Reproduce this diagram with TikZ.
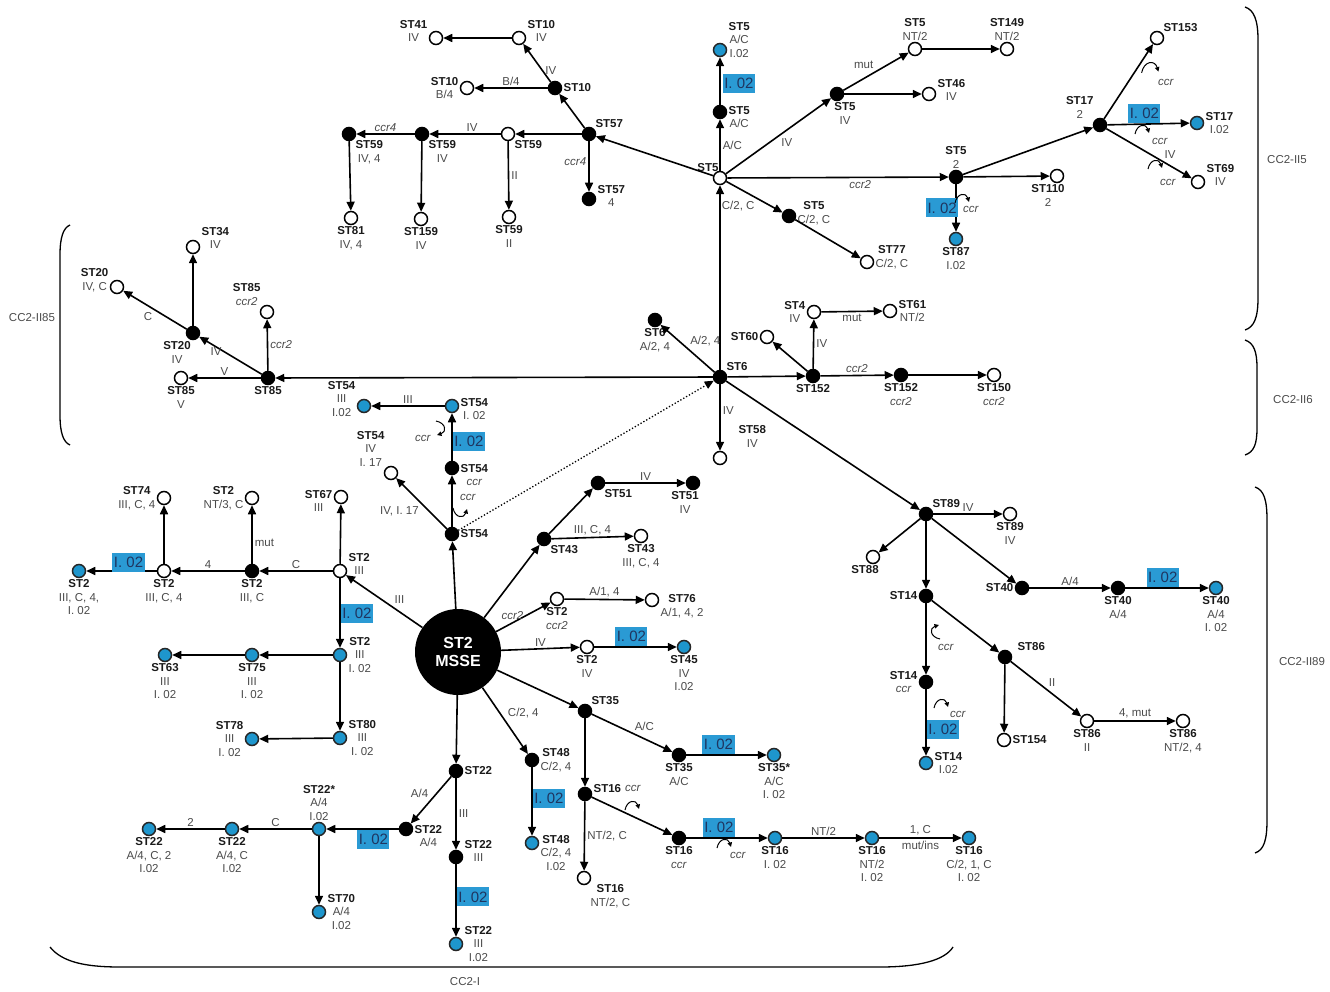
\documentclass[tikz,border=0pt]{standalone}
\usepackage{fontspec}
\setmainfont{Liberation Sans}
\usetikzlibrary{arrows.meta}

\definecolor{stblue}{HTML}{1E96CD}
\definecolor{badgeblue}{HTML}{2A9AD4}
\definecolor{badgetxt}{HTML}{1F3560}
\definecolor{anno}{HTML}{4A4A4A}
\definecolor{stcol}{HTML}{1A1A1A}

\newcommand{\st}[1]{{\bfseries\color{stcol}#1}}

\begin{document}
\begin{tikzpicture}[
    x=1pt, y=-1pt,
    font=\fontsize{11.5}{13.5}\selectfont,
    >={Triangle[length=9pt,width=8pt]},
    base/.style={circle, draw=black, line width=1.5pt, minimum size=13pt, inner sep=0pt},
    opn/.style={base, fill=white},
    fil/.style={base, fill=black},
    blu/.style={base, fill=stblue, draw=black!85},
    hub/.style={circle, fill=black, minimum size=86pt, inner sep=0pt, text=white,
      font=\fontsize{16}{18}\selectfont\bfseries, align=center},
    lab/.style={text=anno, align=center, inner sep=1.2pt},
    el/.style={text=anno, inner sep=2pt},
    badge/.style={fill=badgeblue, text=badgetxt, inner sep=1.5pt, minimum height=19pt,
      font=\fontsize{15}{15}\selectfont},
    arr/.style={->, line width=1.6pt},
    curl/.style={-{Triangle[length=4.5pt,width=4.5pt]}, line width=1pt},
    brk/.style={line width=1.3pt},
    ccrloop/.pic={\draw[curl] (-7,4) .. controls (-5,-6) and (4,-7) .. (7,3);},
  ]
  \useasboundingbox (0,0) rectangle (1330,992);

  % --- CC2-II5: ST5 and ST57 ---
  \node[opn, label={[lab, xshift=5pt]above left:\st{ST5}}] (st5) at (720,178) {};
  \node[fil, label={[lab]above right:\st{ST57}}] (st57) at (589,134) {};
  \node[fil, label={[lab]right:\st{ST10}}] (st10f) at (555,88) {};
  \node[opn, label={[lab, yshift=7pt]right:{\st{ST10}\\IV}}] (st10o) at (519,38) {};
  \node[opn, label={[lab, yshift=7pt]left:{\st{ST41}\\IV}}] (st41) at (436,38) {};
  \node[opn, label={[lab]left:{\st{ST10}\\B/4}}] (st10b) at (467,88) {};
  \node[opn, label={[lab]below right:\st{ST59}}] (st59o) at (508,134) {};
  \node[fil, label={[lab]below right:{\st{ST59}\\IV}}] (st59a) at (422,134) {};
  \node[fil, label={[lab]below right:{\st{ST59}\\IV, 4}}] (st59b) at (349,134) {};
  \node[opn, label={[lab]below:{\st{ST81}\\IV, 4}}] (st81) at (351,218) {};
  \node[opn, label={[lab]below:{\st{ST159}\\IV}}] (st159) at (421,219) {};
  \node[opn, label={[lab]below:{\st{ST59}\\II}}] (st59c) at (509,217) {};
  \node[fil, label={[lab, yshift=3pt]right:{\st{ST57}\\4}}] (st57b) at (589,199) {};
  \node[fil, label={[lab, yshift=-5pt]right:{\st{ST5}\\A/C}}] (st5a) at (720,112) {};
  \node[blu, label={[lab, yshift=10pt]right:{\st{ST5}\\A/C\\I.02}}] (st5b) at (720,50) {};
  \node[fil, label={[lab, xshift=8pt]below:{\st{ST5}\\IV}}] (st5c) at (837,94) {};
  \node[opn, label={[lab]above:{\st{ST5}\\NT/2}}] (st5d) at (915,49) {};
  \node[opn, label={[lab, yshift=4pt]right:{\st{ST46}\\IV}}] (st46) at (929,94) {};
  \node[opn, label={[lab]above:{\st{ST149}\\NT/2}}] (st149) at (1007,49) {};
  \node[fil, label={[lab]above:{\st{ST5}\\2}}] (st5e) at (956,177) {};
  \node[blu, label={[lab]below:{\st{ST87}\\I.02}}] (st87) at (956,239) {};
  \node[opn, label={[lab, xshift=-9pt]below:{\st{ST110}\\2}}] (st110) at (1057,176) {};
  \node[fil, label={[lab]above left:{\st{ST17}\\2}}] (st17) at (1100,125) {};
  \node[opn, label={[lab]above right:\st{ST153}}] (st153) at (1157,38) {};
  \node[blu, label={[lab]right:{\st{ST17}\\I.02}}] (st17b) at (1197,123) {};
  \node[opn, label={[lab, yshift=7pt]right:{\st{ST69}\\IV}}] (st69) at (1198,182) {};
  \node[fil, label={[lab, yshift=3pt]right:{\st{ST5}\\C/2, C}}] (st5f) at (789,216) {};
  \node[opn, label={[lab, yshift=5pt]right:{\st{ST77}\\C/2, C}}] (st77) at (867,262) {};
  \node[opn, label={[lab]left:{\st{ST4}\\IV}}] (st4) at (814,312) {};
  \node[opn, label={[lab]right:{\st{ST61}\\NT/2}}] (st61) at (890,311) {};

  % --- CC2-II6: ST6 ---
  \node[fil, label={[lab]above right:\st{ST6}}] (st6) at (720,377) {};
  \node[fil, label={[lab]below:{\st{ST6}\\A/2, 4}}] (st6a) at (655,320) {};
  \node[fil, label={[lab]below:\st{ST152}}] (st152) at (813,376) {};
  \node[opn, label={[lab]left:\st{ST60}}] (st60) at (767,337) {};
  \node[fil, label={[lab]below:{\st{ST152}\\\textit{ccr2}}}] (st152b) at (901,375) {};
  \node[opn, label={[lab]below:{\st{ST150}\\\textit{ccr2}}}] (st150) at (994,375) {};
  \node[opn, label={[lab, xshift=12pt, yshift=4pt]above right:{\st{ST58}\\IV}}] (st58) at (720,458) {};

  % --- CC2-II89: ST89 ---
  \node[fil, label={[lab]above right:\st{ST89}}] (st89) at (926,514) {};
  \node[opn, label={[lab]below:{\st{ST89}\\IV}}] (st89b) at (1010,514) {};
  \node[opn, label={[lab, xshift=-8pt]below:\st{ST88}}] (st88) at (873,557) {};
  \node[fil, label={[lab]left:\st{ST14}}] (st14) at (926,596) {};
  \node[fil, label={[lab]left:\st{ST40}}] (st40) at (1022,588) {};
  \node[fil, label={[lab]below:{\st{ST40}\\A/4}}] (st40a) at (1118,588) {};
  \node[blu, label={[lab]below:{\st{ST40}\\A/4\\I. 02}}] (st40b) at (1216,588) {};
  \node[fil, label={[lab, xshift=6pt]above right:\st{ST86}}] (st86) at (1005,657) {};
  \node[opn, label={[lab]right:\st{ST154}}] (st154) at (1004,740) {};
  \node[opn, label={[lab]below:{\st{ST86}\\II}}] (st86b) at (1087,721) {};
  \node[opn, label={[lab]below:{\st{ST86}\\NT/2, 4}}] (st86c) at (1183,721) {};
  \node[fil, label={[lab]left:{\st{ST14}\\\textit{ccr}}}] (st14b) at (926,682) {};
  \node[blu, label={[lab]right:{\st{ST14}\\I.02}}] (st14c) at (926,763) {};

  % --- CC2-II85: ST85 ---
  \node[fil, label={[lab]below:\st{ST85}}] (st85) at (268,378) {};
  \node[opn, label={[lab]below:{\st{ST85}\\V}}] (st85a) at (181,378) {};
  \node[fil, label={[lab, xshift=-16pt]below:{\st{ST20}\\IV}}] (st20) at (193,333) {};
  \node[opn, label={[lab, yshift=9pt]right:{\st{ST34}\\IV}}] (st34) at (193,247) {};
  \node[opn, label={[lab, yshift=7pt]left:{\st{ST20}\\IV, C}}] (st20b) at (117,287) {};
  \node[opn, label={[lab]above left:{\st{ST85}\\\textit{ccr2}}}] (st85b) at (267,312) {};

  % --- CC2-I: ST2 MSSE ---
  \node[hub] (st2) at (458,652) {ST2\\MSSE};
  \node[fil, label={[lab]right:\st{ST54}}] (st54) at (452,534) {};
  \node[fil, label={[lab, yshift=-7pt]right:{\st{ST54}\\\textit{ccr}}}] (st54a) at (452,468) {};
  \node[blu, label={[lab, yshift=-3pt]right:{\st{ST54}\\I. 02}}] (st54b) at (452,406) {};
  \node[blu, label={[lab, yshift=7pt]left:{\st{ST54}\\III\\I.02}}] (st54c) at (364,406) {};
  \node[opn, label={[lab]above left:{\st{ST54}\\IV\\I. 17}}] (st54d) at (391,473) {};
  \node[fil, label={[lab]below right:\st{ST51}}] (st51) at (598,483) {};
  \node[fil, label={[lab]below right:\st{ST43}}] (st43) at (544,539) {};
  \node[fil, label={[lab, xshift=-8pt]below:{\st{ST51}\\IV}}] (st51b) at (693,483) {};
  \node[opn, label={[lab]below:{\st{ST43}\\III, C, 4}}] (st43b) at (641,536) {};
  \node[opn, label={[lab]below:{\st{ST2}\\\textit{ccr2}}}] (st2a) at (557,599) {};
  \node[opn, label={[lab, yshift=-6pt]right:{\st{ST76}\\A/1, 4, 2}}] (st76) at (652,600) {};
  \node[opn, label={[lab]below:{\st{ST2}\\IV}}] (st2b) at (587,647) {};
  \node[blu, label={[lab]below:{\st{ST45}\\IV\\I.02}}] (st45) at (684,647) {};
  \node[opn, label={[lab, yshift=7pt]right:{\st{ST2}\\III}}] (st2c) at (340,571) {};
  \node[opn, label={[lab, yshift=-4pt]left:{\st{ST67}\\III}}] (st67) at (341,497) {};
  \node[fil, label={[lab]below:{\st{ST2}\\III, C}}] (st2d) at (252,571) {};
  \node[opn, label={[lab]left:{\st{ST2}\\NT/3, C}}] (st2e) at (252,498) {};
  \node[opn, label={[lab]below:{\st{ST2}\\III, C, 4}}] (st2f) at (164,571) {};
  \node[opn, label={[lab]left:{\st{ST74}\\III, C, 4}}] (st74) at (164,498) {};
  \node[blu, label={[lab]below:{\st{ST2}\\III, C, 4,\\I. 02}}] (st2g) at (79,571) {};
  \node[blu, label={[lab]right:{\st{ST2}\\III\\I. 02}}] (st2h) at (340,655) {};
  \node[blu, label={[lab]below:{\st{ST75}\\III\\I. 02}}] (st75) at (252,655) {};
  \node[blu, label={[lab]below:{\st{ST63}\\III\\I. 02}}] (st63) at (165,655) {};
  \node[blu, label={[lab]right:{\st{ST80}\\III\\I. 02}}] (st80) at (340,738) {};
  \node[blu, label={[lab]left:{\st{ST78}\\III\\I. 02}}] (st78) at (252,739) {};
  \node[fil, label={[lab]right:\st{ST22}}] (st22) at (456,771) {};
  \node[fil, label={[lab, yshift=-7pt]right:{\st{ST22}\\A/4}}] (st22a) at (406,829) {};
  \node[blu, label={[lab]above:{\st{ST22*}\\A/4\\I.02}}] (st22s) at (319,829) {};
  \node[blu, label={[lab]below:{\st{ST22}\\A/4, C\\I.02}}] (st22b) at (232,829) {};
  \node[blu, label={[lab]below:{\st{ST22}\\A/4, C, 2\\I.02}}] (st22c) at (149,829) {};
  \node[blu, label={[lab]right:{\st{ST70}\\A/4\\I.02}}] (st70) at (319,912) {};
  \node[fil, label={[lab, yshift=6pt]right:{\st{ST22}\\III}}] (st22d) at (456,857) {};
  \node[blu, label={[lab]right:{\st{ST22}\\III\\I.02}}] (st22e) at (456,944) {};
  \node[fil, label={[lab]right:{\st{ST48}\\C/2, 4}}] (st48) at (532,760) {};
  \node[blu, label={[lab, yshift=-10pt]right:{\st{ST48}\\C/2, 4\\I.02}}] (st48b) at (532,843) {};
  \node[fil, label={[lab]above right:\st{ST35}}] (st35) at (585,711) {};
  \node[fil, label={[lab]below:{\st{ST35}\\A/C}}] (st35a) at (679,755) {};
  \node[blu, label={[lab]below:{\st{ST35*}\\A/C\\I. 02}}] (st35b) at (774,755) {};
  \node[fil, label={[lab, yshift=5pt]right:\st{ST16}}] (st16) at (585,794) {};
  \node[opn, label={[lab]below right:{\st{ST16}\\NT/2, C}}] (st16b) at (584,878) {};
  \node[fil, label={[lab]below:{\st{ST16}\\\textit{ccr}}}] (st16c) at (679,838) {};
  \node[blu, label={[lab]below:{\st{ST16}\\I. 02}}] (st16d) at (775,838) {};
  \node[blu, label={[lab]below:{\st{ST16}\\NT/2\\I. 02}}] (st16e) at (872,838) {};
  \node[blu, label={[lab]below:{\st{ST16}\\C/2, 1, C\\I. 02}}] (st16f) at (969,838) {};

  % links from ST5
  \draw[arr] (st5) -- (st57);
  \draw[arr] (st57) -- (st10f);
  \draw[arr] (st10f) -- node[el, right, pos=0.3] {IV} (st10o);
  \draw[arr] (st10o) -- (st41);
  \draw[arr] (st10f) -- node[el, above] {B/4} (st10b);
  \draw[arr] (st57) -- (st59o);
  \draw[arr] (st59o) -- node[el, above, pos=0.4] {IV} (st59a);
  \draw[arr] (st59a) -- node[el, above] {\textit{ccr4}} (st59b);
  \draw[arr] (st59b) -- (st81);
  \draw[arr] (st59a) -- (st159);
  \draw[arr] (st59o) -- node[el, right] {II} (st59c);
  \draw[arr] (st57) -- node[el, left, pos=0.4] {\textit{ccr4}} (st57b);
  \draw[arr] (st5) -- node[el, right] {A/C} (st5a);
  \draw[arr] (st5a) -- node[badge, right, pos=0.45, xshift=2pt] {I. 02} (st5b);
  \draw[arr] (st5) -- node[el, below right] {IV} (st5c);
  \draw[arr] (st5c) -- node[el, above left] {mut} (st5d);
  \draw[arr] (st5c) -- (st46);
  \draw[arr] (st5d) -- (st149);
  \draw[arr] (st5) -- node[el, below, pos=0.6] {\textit{ccr2}} (st5e);
  \draw[arr] (st5e) -- node[badge, left, pos=0.5, xshift=3pt] {I. 02} (st87);
  \draw[arr] (st5e) -- (st110);
  \draw[arr] (st5e) -- (st17);
  \draw[arr] (st17) -- (st153);
  \draw[arr] (st17) -- node[badge, above, pos=0.45] {I. 02} (st17b);
  \draw[arr] (st17) -- node[el, above right, pos=0.65] {IV} (st69);
  \draw[arr] (st5) -- node[el, below left, pos=0.55] {C/2, C} (st5f);
  \draw[arr] (st5f) -- (st77);

  % links from ST6
  \draw[arr] (st6) -- (st5);
  \draw[arr] (st6) -- node[el, above right, pos=0.5] {A/2, 4} (st6a);
  \draw[arr] (st6) -- (st152);
  \draw[arr] (st152) -- (st60);
  \draw[arr] (st152) -- node[el, right] {IV} (st4);
  \draw[arr] (st4) -- node[el, below] {mut} (st61);
  \draw[arr] (st152) -- node[el, above] {\textit{ccr2}} (st152b);
  \draw[arr] (st152b) -- (st150);
  \draw[arr] (st6) -- node[el, right, pos=0.4] {IV} (st58);
  \draw[arr] (st6) -- (st85);
  \draw[arr] (st6) -- (st89);

  % links from ST89
  \draw[arr] (st89) -- node[el, above] {IV} (st89b);
  \draw[arr] (st89) -- (st88);
  \draw[arr] (st89) -- (st14);
  \draw[arr] (st89) -- (st40);
  \draw[arr] (st40) -- node[el, above] {A/4} (st40a);
  \draw[arr] (st40a) -- node[badge, above, pos=0.45] {I. 02} (st40b);
  \draw[arr] (st14) -- (st86);
  \draw[arr] (st86) -- (st154);
  \draw[arr] (st86) -- node[el, above right] {II} (st86b);
  \draw[arr] (st86b) -- node[el, above] {4, mut} (st86c);
  \draw[arr] (st14) -- (st14b);
  \draw[arr] (st14b) -- node[badge, right, pos=0.6] {I. 02} (st14c);

  % links from ST85
  \draw[arr] (st85) -- node[el, above] {V} (st85a);
  \draw[arr] (st85) -- node[el, left, pos=0.6] {IV} (st20);
  \draw[arr] (st20) -- (st34);
  \draw[arr] (st20) -- node[el, below left, pos=0.5] {C} (st20b);
  \draw[arr] (st85) -- node[el, right] {\textit{ccr2}} (st85b);

  % links from ST2 MSSE
  \draw[arr] (st2) -- (st54);
  \draw[arr, line width=1.3pt, dotted] (st54) -- (st6);
  \draw[arr] (st54) -- (st54a);
  \draw[arr] (st54a) -- node[badge, right, pos=0.4] {I. 02} (st54b);
  \draw[arr] (st54b) -- node[el, above] {III} (st54c);
  \draw[arr] (st54) -- node[el, below left] {IV, I. 17} (st54d);
  \draw[arr] (st2) -- (st43);
  \draw[arr] (st43) -- (st51);
  \draw[arr] (st51) -- node[el, above] {IV} (st51b);
  \draw[arr] (st43) -- node[el, above] {III, C, 4} (st43b);
  \draw[arr] (st2) -- node[el, above, pos=0.3] {\textit{ccr2}} (st2a);
  \draw[arr] (st2a) -- node[el, above] {A/1, 4} (st76);
  \draw[arr] (st2) -- node[el, above] {IV} (st2b);
  \draw[arr] (st2b) -- node[badge, above, pos=0.45] {I. 02} (st45);
  \draw[arr] (st2) -- node[el, above right, pos=0.4] {III} (st2c);
  \draw[arr] (st2c) -- (st67);
  \draw[arr] (st2c) -- node[el, above] {C} (st2d);
  \draw[arr] (st2d) -- node[el, right, pos=0.35] {mut} (st2e);
  \draw[arr] (st2d) -- node[el, above] {4} (st2f);
  \draw[arr] (st2f) -- (st74);
  \draw[arr] (st2f) -- node[badge, above, pos=0.4, yshift=-2pt] {I. 02} (st2g);
  \draw[arr] (st2c) -- node[badge, right, pos=0.5] {I. 02} (st2h);
  \draw[arr] (st2h) -- (st75);
  \draw[arr] (st75) -- (st63);
  \draw[arr] (st2h) -- (st80);
  \draw[arr] (st80) -- (st78);
  \draw[arr] (st2) -- (st22);
  \draw[arr] (st22) -- node[el, above left] {A/4} (st22a);
  \draw[arr] (st22a) -- node[badge, below, pos=0.35] {I. 02} (st22s);
  \draw[arr] (st22s) -- node[el, above] {C} (st22b);
  \draw[arr] (st22b) -- node[el, above] {2} (st22c);
  \draw[arr] (st22s) -- (st70);
  \draw[arr] (st22) -- node[el, right] {III} (st22d);
  \draw[arr] (st22d) -- node[badge, right, pos=0.45] {I. 02} (st22e);
  \draw[arr] (st2) -- node[el, above right] {C/2, 4} (st48);
  \draw[arr] (st48) -- node[badge, right, pos=0.45] {I. 02} (st48b);
  \draw[arr] (st2) -- (st35);
  \draw[arr] (st35) -- node[el, above right] {A/C} (st35a);
  \draw[arr] (st35a) -- node[badge, above, pos=0.4] {I. 02} (st35b);
  \draw[arr] (st35) -- (st16);
  \draw[arr] (st16) -- node[el, right] {NT/2, C} (st16b);
  \draw[arr] (st16) -- (st16c);
  \draw[arr] (st16c) -- node[badge, above, pos=0.4] {I. 02} (st16d);
  \draw[arr] (st16d) -- node[el, above] {NT/2} (st16e);
  \draw[arr] (st16e) -- node[el, above] {1, C} node[el, below] {mut/ins} (st16f);

  % ccr loops
  \pic at (962,199) {ccrloop};
  \node[el] (ccr1) at (971,209) {\textit{ccr}};
  \pic[scale=1.2] at (1150,68) {ccrloop};
  \node[el] (ccr2) at (1166,82) {\textit{ccr}};
  \pic at (1142,130) {ccrloop};
  \node[el] (ccr3) at (1160,141) {\textit{ccr}};
  \pic at (1155,165) {ccrloop};
  \node[el] (ccr4) at (1168,182) {\textit{ccr}};
  \pic at (632,806) {ccrloop};
  \node[el] (ccr5) at (633,788) {\textit{ccr}};
  \pic at (724,844) {ccrloop};
  \node[el] (ccr6) at (738,855) {\textit{ccr}};
  \pic at (941,704) {ccrloop};
  \node[el] (ccr7) at (958,714) {\textit{ccr}};
  \pic[rotate=90] at (936,632) {ccrloop};
  \node[el] (ccr8) at (946,647) {\textit{ccr}};
  \pic[yscale=-1] at (460,512) {ccrloop};
  \node[el] (ccr9) at (468,497) {\textit{ccr}};
  \pic[rotate=-90] at (440,428) {ccrloop};
  \node[el] (ccr10) at (423,438) {\textit{ccr}};

  % clonal complexes
  \draw[brk] (50,947) .. controls (62,962) and (85,967) .. (120,967) -- (880,967) .. controls (920,967) and (945,960) .. (953,947);
  \node[el] (cci) at (465,982) {CC2-I};
  \draw[brk] (1245,7) .. controls (1254,10) and (1258,20) .. (1258,40) -- (1258,298) .. controls (1258,318) and (1254,327) .. (1245,330);
  \node[el] (cc5) at (1287,160) {CC2-II5};
  \draw[brk] (1245,340) .. controls (1254,343) and (1257,352) .. (1257,368) -- (1257,428) .. controls (1257,444) and (1254,452) .. (1245,455);
  \node[el] (cc6) at (1293,400) {CC2-II6};
  \draw[brk] (1255,487) .. controls (1264,490) and (1267,500) .. (1267,520) -- (1267,820) .. controls (1267,840) and (1264,850) .. (1255,853);
  \node[el] (cc89) at (1302,662) {CC2-II89};
  \draw[brk] (70,225) .. controls (63,228) and (60,238) .. (60,255) -- (60,415) .. controls (60,432) and (63,442) .. (70,445);
  \node[el] (cc85) at (32,318) {CC2-II85};
\end{tikzpicture}
\end{document}
